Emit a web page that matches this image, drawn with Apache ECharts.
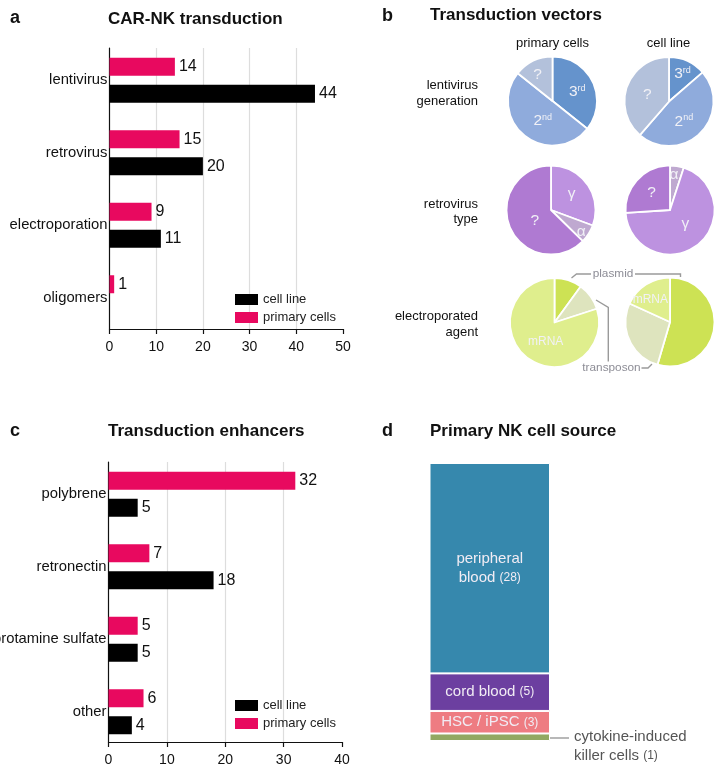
<!DOCTYPE html>
<html>
<head>
<meta charset="utf-8">
<style>html,body{margin:0;padding:0;background:#fff}#main{width:719px;height:767px}</style>
<script src="https://cdn.jsdelivr.net/npm/echarts@6/dist/echarts.min.js"></script>
</head>
<body>
<div id="main"></div>
<script>
// panel a
var methods = ['lentivirus', 'retrovirus', 'electroporation', 'oligomers'];
var methodPrimary = [14, 15, 9, 1];
var methodCellLine = [44, 20, 11, null];
// panel c
var enhancers = ['polybrene', 'retronectin', 'protamine sulfate', 'other'];
var enhancerPrimary = [32, 7, 5, 6];
var enhancerCellLine = [5, 18, 5, 4];
// panel b
var lentiNames = ['3rd', '2nd', '?'];
var lentiPrimary = [5, 7, 2];
var lentiCellLine = [6, 21, 17];
var retroNamesPrimary = ['γ', 'α', '?'];
var retroPrimary = [4.6, 1, 9.4];
var retroNamesCellLine = ['α', 'γ', '?'];
var retroCellLine = [1, 13.8, 5.2];
var agentNamesPrimary = ['plasmid', 'transposon', 'mRNA'];
var agentPrimary = [0.9, 0.9, 7.2];
var agentNamesCellLine = ['plasmid', 'transposon', 'mRNA'];
var agentCellLine = [6, 3, 2];
// panel d
var sources = ['peripheral\nblood', 'cord blood', 'HSC / iPSC', 'cytokine-induced\nkiller cells'];
var sourceCounts = [28, 5, 3, 1];

var FONT = '"Liberation Sans", Arial, sans-serif';
var PINK = '#e8095f';
var pieColors = {
  '3rd': '#6593cc', '2nd': '#8fabdc', '?': '#b3c1db',
  'plasmid': '#cde254', 'transposon': '#dee4be', 'mRNA': '#dfee8d'
};
var retroColors = {'γ': '#bd92e0', 'α': '#bfa9d0', '?': '#af7ad2'};
var sourceColors = ['#3688ad', '#6c3fa0', '#ee7c82', '#92a862'];

var titles = [];
function addTitle(text, x, y, size) {
  titles.push({text: text, left: x, top: y, padding: 0, textStyle: {fontFamily: FONT, fontSize: size, fontWeight: 'bold', color: '#111'}});
}
addTitle('a', 10, 9, 18);
addTitle('CAR-NK transduction', 108, 11, 17);
addTitle('b', 382, 7, 18);
addTitle('Transduction vectors', 430, 7, 17);
addTitle('c', 10, 422, 18);
addTitle('Transduction enhancers', 108, 423, 17);
addTitle('d', 382, 422, 18);
addTitle('Primary NK cell source', 430, 423, 17);

var grids = [], xAxes = [], yAxes = [], series = [], legends = [];

// each bar panel gets a back grid for axes and gridlines and a slightly taller one for the bars
function barPanel(left, right, top, bottom, bandTop, bandBottom, max, cats, primary, cellLine, legendTop) {
  var g = grids.length;
  grids.push({left: left, width: right - left, top: top, height: bottom - top, outerBoundsMode: 'none'});
  grids.push({left: left, width: right - left, top: bandTop, height: bandBottom - bandTop, outerBoundsMode: 'none'});
  xAxes.push({
    gridIndex: g, type: 'value', min: 0, max: max, interval: 10,
    axisLine: {show: true, lineStyle: {color: '#111', width: 1.2}},
    axisTick: {show: true, length: 5, lineStyle: {color: '#111', width: 1.2}},
    axisLabel: {fontFamily: FONT, fontSize: 14, color: '#111', margin: 11, hideOverlap: false},
    splitLine: {show: true, showMinLine: false, showMaxLine: false, lineStyle: {color: '#ddd', width: 1.2}}
  });
  yAxes.push({
    gridIndex: g, type: 'category', data: cats, inverse: true,
    axisLine: {show: true, onZero: false, lineStyle: {color: '#111', width: 1.2}},
    axisTick: {show: false}, axisLabel: {show: false}, splitLine: {show: false}
  });
  xAxes.push({gridIndex: g + 1, type: 'value', min: 0, max: max, show: false, splitLine: {show: false}});
  yAxes.push({
    gridIndex: g + 1, type: 'category', data: cats, inverse: true,
    axisLine: {show: false}, axisTick: {show: false}, splitLine: {show: false},
    axisLabel: {fontFamily: FONT, fontSize: 14.8, color: '#111', margin: 2, interval: 0}
  });
  function bar(name, data, color) {
    series.push({
      name: name, type: 'bar', xAxisIndex: g + 1, yAxisIndex: g + 1, data: data,
      barWidth: 18, barGap: '50%', itemStyle: {color: color}, silent: true,
      label: {show: true, position: 'right', distance: 4, fontFamily: FONT, fontSize: 16, color: '#111'}
    });
  }
  bar('primary cells', primary, PINK);
  bar('cell line', cellLine, '#000');
  legends.push({
    data: ['cell line', 'primary cells'], orient: 'vertical', left: 235, top: legendTop, padding: 0,
    itemWidth: 23, itemHeight: 11, itemGap: 5, selectedMode: false, icon: 'rect',
    textStyle: {fontFamily: FONT, fontSize: 13, color: '#222'}
  });
}
barPanel(109.5, 343, 48, 329, 44, 334, 50, methods, methodPrimary, methodCellLine, 293);
barPanel(108.5, 342, 462, 742, 458, 748, 40, enhancers, enhancerPrimary, enhancerCellLine, 699);

function supLabel(name) {
  // 3rd, 2nd -> number + small raised suffix
  var m = name.match(/^(\d)(\w+)$/);
  return m ? '{n|' + m[1] + '}{s|' + m[2] + '}' : name;
}
var LABEL_COLOR = '#f1f1f6';
function pie(cx, cy, names, values, colors, labelOffsets, labelSize) {
  series.push({
    type: 'pie', center: [cx, cy], radius: 44.5, startAngle: 90, silent: true,
    legendHoverLink: false, avoidLabelOverlap: false, labelLine: {show: false},
    itemStyle: {borderColor: '#fff', borderWidth: 1.8},
    data: names.map(function (n, i) {
      var show = labelOffsets[n] !== undefined;
      return {
        name: n, value: values[i], itemStyle: {color: colors[n]},
        label: {
          show: show, position: 'inside', offset: labelOffsets[n] || [0, 0],
          formatter: function () { return supLabel(n); },
          fontFamily: FONT, fontSize: labelSize, color: LABEL_COLOR,
          rich: {
            n: {fontFamily: FONT, fontSize: 15.5, color: LABEL_COLOR},
            s: {fontFamily: FONT, fontSize: 9, color: LABEL_COLOR, verticalAlign: 'top', padding: [0, 0, 5, 0]}
          }
        }
      };
    })
  });
}
pie(552.5, 101, lentiNames, lentiPrimary, pieColors, {'3rd': [2, 2], '2nd': [6, 0], '?': [-4, -4]}, 15.5);
pie(669, 101.5, lentiNames, lentiCellLine, pieColors, {'3rd': [3, -5], '2nd': [-3, 2], '?': [2, 2]}, 15.5);
pie(551, 210, retroNamesPrimary, retroPrimary, retroColors, {'γ': [0, -2], 'α': [9, 8], '?': [7, 1]}, 15.5);
pie(670, 210, retroNamesCellLine, retroCellLine, retroColors, {'α': [0, -10], 'γ': [0, -6], '?': [0, 0]}, 15.5);
pie(554.5, 322.5, agentNamesPrimary, agentPrimary, pieColors, {'mRNA': [6, -1]}, 12);
pie(670, 322, agentNamesCellLine, agentCellLine, pieColors, {'mRNA': [-6, -1]}, 12);

// panel d, one stacked column
var gd = grids.length;
grids.push({left: 429.5, width: 120.5, top: 463, height: 278, outerBoundsMode: 'none'});
xAxes.push({gridIndex: gd, type: 'category', data: ['source'], show: false});
yAxes.push({gridIndex: gd, type: 'value', min: 0, max: 37, inverse: true, show: false, splitLine: {show: false}});
sources.forEach(function (name, i) {
  var last = i === sources.length - 1;
  series.push({
    name: name, type: 'bar', stack: 'source', xAxisIndex: gd, yAxisIndex: gd, silent: true,
    data: [sourceCounts[i]], barWidth: 120.5,
    itemStyle: {color: sourceColors[i], borderColor: '#fff', borderWidth: 1},
    label: {
      show: true, position: last ? 'right' : 'inside', distance: last ? 24 : 0, offset: last ? [0, 9] : [0, 0],
      align: last ? 'left' : 'center',
      formatter: function () {
        var lines = name.split('\n');
        lines[lines.length - 1] += ' {c|(' + sourceCounts[i] + ')}';
        return lines.join('\n');
      },
      fontFamily: FONT, fontSize: 15, lineHeight: 19, color: last ? '#555' : '#f1ecf4',
      rich: {c: {fontFamily: FONT, fontSize: 12, color: last ? '#555' : '#f1ecf4'}}
    }
  });
});

function text(str, x, y, align, size, color) {
  return {type: 'text', x: x, y: y, silent: true, style: {
    text: str, align: align, verticalAlign: 'middle', fontFamily: FONT, fontSize: size, fill: color, lineHeight: 15.5
  }};
}
function line(points) {
  return {type: 'polyline', silent: true, shape: {points: points}, style: {stroke: '#9a9a9a', lineWidth: 1.4, fill: null}};
}
var graphics = [
  text('primary cells', 552.5, 43, 'center', 13, '#111'),
  text('cell line', 668.5, 43, 'center', 13, '#111'),
  text('lentivirus\ngeneration', 478, 93.5, 'right', 13, '#111'),
  text('retrovirus\ntype', 478, 212, 'right', 13, '#111'),
  text('electroporated\nagent', 478, 324.5, 'right', 13, '#111'),
  text('plasmid', 613, 274, 'center', 11.8, '#8d8d96'),
  text('transposon', 611.5, 368, 'center', 11.8, '#8d8d96'),
  line([[571.5, 278], [576.5, 274], [591, 274]]),
  line([[635, 274], [680.5, 274], [680.5, 277]]),
  line([[596, 300], [608.3, 307.5], [608.3, 361.5]]),
  line([[641.5, 368], [648, 368], [652, 364]]),
  line([[550, 738], [569, 738]])
];

var chart = echarts.init(document.getElementById('main'), null, {renderer: 'canvas'});
chart.setOption({
  animation: false,
  backgroundColor: '#fff',
  title: titles,
  legend: legends,
  grid: grids,
  xAxis: xAxes,
  yAxis: yAxes,
  series: series,
  graphic: graphics
});
</script>
</body>
</html>
